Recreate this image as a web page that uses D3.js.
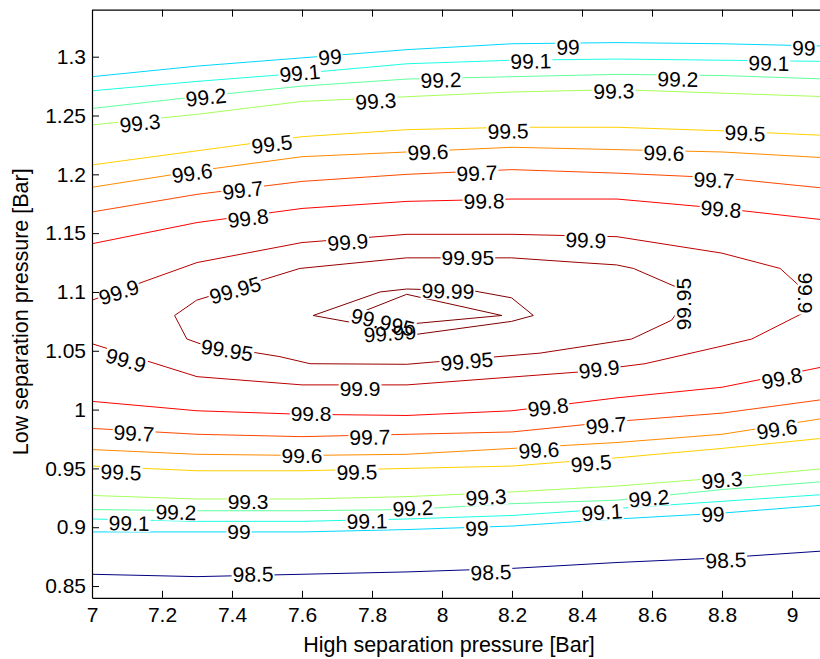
<!DOCTYPE html>
<html>
<head>
<meta charset="utf-8">
<script src="https://cdn.jsdelivr.net/npm/d3@7"></script>
<style>
  body { margin: 0; background: #fff; }
  svg { display: block; font-family: "Liberation Sans", Arial, sans-serif; }
</style>
</head>
<body>
<svg id="chart"></svg>
<script>
// axis ticks
const xTicks = [7, 7.2, 7.4, 7.6, 7.8, 8, 8.2, 8.4, 8.6, 8.8, 9];
const yTicks = [0.85, 0.9, 0.95, 1, 1.05, 1.1, 1.15, 1.2, 1.25, 1.3];

// grid columns the open contour lines pass through
const xGrid = [7, 7.3, 7.6, 7.9, 8.2, 8.5, 8.8, 9.1];

// lower band of contour lines (y at each xGrid)
const lowerLevels = [98.5, 99, 99.1, 99.2, 99.3, 99.5, 99.6, 99.7, 99.8];
const lowerY = [
  [0.860, 0.858, 0.860, 0.862, 0.865, 0.870, 0.874, 0.880],
  [0.896, 0.896, 0.896, 0.898, 0.901, 0.907, 0.912, 0.919],
  [0.907, 0.905, 0.905, 0.907, 0.910, 0.916, 0.922, 0.928],
  [0.915, 0.914, 0.914, 0.915, 0.920, 0.923, 0.932, 0.939],
  [0.927, 0.924, 0.924, 0.926, 0.930, 0.935, 0.942, 0.950],
  [0.952, 0.948, 0.948, 0.950, 0.952, 0.959, 0.967, 0.976],
  [0.966, 0.962, 0.961, 0.962, 0.967, 0.972, 0.979, 0.993],
  [0.984, 0.979, 0.977, 0.979, 0.981, 0.990, 0.997, 1.009],
  [1.007, 0.999, 0.996, 0.995, 0.999, 1.010, 1.019, 1.037]
];

// upper band of contour lines
const upperLevels = [99, 99.1, 99.2, 99.3, 99.5, 99.6, 99.7, 99.8];
const upperY = [
  [1.283, 1.292, 1.299, 1.306, 1.311, 1.312, 1.311, 1.309],
  [1.271, 1.279, 1.286, 1.294, 1.297, 1.298, 1.297, 1.296],
  [1.256, 1.266, 1.275, 1.281, 1.283, 1.285, 1.284, 1.281],
  [1.242, 1.251, 1.262, 1.266, 1.270, 1.272, 1.269, 1.266],
  [1.208, 1.220, 1.232, 1.238, 1.240, 1.240, 1.237, 1.233],
  [1.189, 1.203, 1.215, 1.219, 1.223, 1.221, 1.219, 1.214],
  [1.168, 1.183, 1.194, 1.200, 1.204, 1.201, 1.197, 1.188],
  [1.141, 1.159, 1.171, 1.177, 1.179, 1.179, 1.171, 1.161]
];

// inner contours as [x, y] vertices
const line999 = [[7, 1.093], [7.3, 1.125], [7.6, 1.142], [7.9, 1.149], [8.2, 1.149], [8.5, 1.147],
  [8.8, 1.133], [8.966, 1.120], [9.04, 1.100], [9.031, 1.082], [8.885, 1.060], [8.8, 1.054],
  [8.58, 1.039], [8.394, 1.032], [7.9, 1.021], [7.6, 1.021], [7.3, 1.028], [7, 1.056]];
const ring9995 = [[7.236, 1.080], [7.299, 1.093], [7.594, 1.120], [7.899, 1.129], [8.199, 1.129],
  [8.394, 1.125], [8.499, 1.123], [8.547, 1.120], [8.671, 1.104], [8.691, 1.091], [8.656, 1.076],
  [8.542, 1.060], [8.499, 1.058], [8.28, 1.048], [7.899, 1.0385], [7.623, 1.039], [7.537, 1.045],
  [7.309, 1.056], [7.271, 1.060]];
const ring9999 = [[7.632, 1.080], [7.823, 1.100], [7.899, 1.1025], [8.089, 1.101], [8.199, 1.095],
  [8.261, 1.080], [8.199, 1.075], [7.928, 1.064], [7.78, 1.072]];
const ring99995 = [[7.737, 1.079], [7.899, 1.098], [8.171, 1.080], [7.899, 1.0725]];

// contour labels: [level, x, y, angle]
const labels = [
  [99, 7.680, 1.2997, -5], [99.1, 7.594, 1.2861, -5], [99.2, 7.326, 1.2657, -6],
  [99.3, 7.137, 1.2436, -6], [99.5, 7.514, 1.2258, -7], [99.6, 7.286, 1.2011, -8],
  [99.7, 7.431, 1.1867, -7], [99.8, 7.446, 1.1628, -7], [99.1, 8.254, 1.2963, -1],
  [99.2, 7.997, 1.2802, -1.5], [99.3, 7.811, 1.2623, -3], [99.5, 8.189, 1.2368, -1],
  [99.6, 7.960, 1.2190, -2], [99.7, 8.100, 1.2011, -2], [99.8, 8.120, 1.1773, -1],
  [99, 8.360, 1.3082, -0.5], [99, 9.034, 1.3074, 1], [99.1, 8.934, 1.2946, 1],
  [99.2, 8.674, 1.2810, 1], [99.3, 8.491, 1.2708, -1], [99.5, 8.866, 1.2351, 2.5],
  [99.6, 8.634, 1.2181, 1.5], [99.7, 8.777, 1.1952, 3], [99.8, 8.797, 1.1705, 5],
  [99.9, 7.077, 1.0999, -18], [99.95, 7.409, 1.1016, -16], [99.95, 7.386, 1.0506, 9],
  [99.9, 7.097, 1.0421, 16], [99.9, 7.731, 1.1424, -4], [99.95, 8.074, 1.1297, 0],
  [99.99, 8.017, 1.1008, 1], [99.995, 7.831, 1.0744, 13], [99.99, 7.851, 1.0650, -4],
  [99.95, 8.071, 1.0412, -5], [99.9, 7.766, 1.0183, 0], [99.8, 7.626, 0.9970, 0],
  [99.8, 8.303, 1.0021, -7], [99.9, 8.411, 1.1441, 2], [99.95, 8.689, 1.0897, -90],
  [99.9, 9.040, 1.0991, 90], [99.9, 8.449, 1.0344, -7], [99.8, 8.971, 1.0268, -11],
  [99.7, 7.120, 0.9800, 3], [99.5, 7.083, 0.9469, 2], [99.1, 7.106, 0.9035, 1],
  [99.2, 7.240, 0.9128, 1], [99.3, 7.446, 0.9222, 0], [99, 7.420, 0.8967, 0],
  [98.5, 7.460, 0.8601, -1], [99.6, 7.600, 0.9613, 0], [99.7, 7.794, 0.9766, -1],
  [99.5, 7.757, 0.9469, -1], [99.1, 7.786, 0.9052, -1], [99.2, 7.917, 0.9162, -3],
  [99.3, 8.126, 0.9256, -3], [99, 8.100, 0.8992, -2], [98.5, 8.140, 0.8618, -2],
  [99.6, 8.277, 0.9656, -3], [99.7, 8.469, 0.9868, -5], [99.5, 8.426, 0.9545, -5],
  [99.1, 8.457, 0.9128, -4], [99.2, 8.591, 0.9247, -5], [99.3, 8.800, 0.9401, -5],
  [99, 8.774, 0.9111, -3], [98.5, 8.811, 0.8720, -2.5], [99.6, 8.957, 0.9834, -9]
];

const width = 820, height = 659;
const plotL = 92, plotR = 827, plotT = 9.65, plotB = 597.8;

const svg = d3.select('#chart').attr('width', width).attr('height', height);

const x = d3.scaleLinear().domain([7, 9.1]).range([plotL, plotR]);
const y = d3.scaleLinear().domain([0.84, 1.34]).range([plotB, plotT]);

// jet colormap
const jet = d3.scaleLinear()
  .domain([0, 0.125, 0.375, 0.625, 0.875, 1])
  .range(['#000080', '#0000ff', '#00ffff', '#ffff00', '#ff0000', '#800000'])
  .clamp(true);
const color = v => jet((v - 98.5) / (99.99 - 98.5));

svg.append('defs').append('clipPath').attr('id', 'plot')
  .append('rect').attr('x', plotL).attr('y', plotT)
  .attr('width', plotR - plotL).attr('height', plotB - plotT);

const lines = [];
lowerLevels.forEach((lv, i) => lines.push({ level: lv, pts: xGrid.map((gx, j) => [gx, lowerY[i][j]]), closed: false }));
upperLevels.forEach((lv, i) => lines.push({ level: lv, pts: xGrid.map((gx, j) => [gx, upperY[i][j]]), closed: false }));
lines.push({ level: 99.9, pts: line999, closed: false });
lines.push({ level: 99.95, pts: ring9995, closed: true });
lines.push({ level: 99.99, pts: ring9999, closed: true });
lines.push({ level: 99.995, pts: ring99995, closed: true });

const plot = svg.append('g').attr('clip-path', 'url(#plot)');

plot.selectAll('path.contour')
  .data(lines)
  .join('path')
  .attr('class', 'contour')
  .attr('d', d => (d.closed ? d3.line().curve(d3.curveLinearClosed) : d3.line())
    .x(p => x(p[0])).y(p => y(p[1]))(d.pts))
  .attr('fill', 'none')
  .attr('stroke', d => color(d.level))
  .attr('stroke-width', 1);

// labels: white boxes first so they break the lines, then text
const fs = 21;
const place = d => `translate(${x(d[1])},${y(d[2])}) rotate(${d[3]})`;

const boxes = plot.append('g').selectAll('rect')
  .data(labels)
  .join('rect')
  .attr('transform', place)
  .attr('fill', '#fff');

const texts = plot.append('g').selectAll('text')
  .data(labels)
  .join('text')
  .attr('transform', place)
  .attr('text-anchor', 'middle')
  .attr('y', fs * 0.36)
  .attr('font-size', fs)
  .attr('fill', '#000')
  .text(d => String(d[0]));

texts.each(function (d, i) {
  const w = this.getComputedTextLength();
  d3.select(boxes.nodes()[i])
    .attr('x', -w / 2 - 1).attr('width', w + 2)
    .attr('y', -fs * 0.4).attr('height', fs * 0.8);
});

// axes
const axisStyle = g => {
  g.selectAll('.domain').attr('stroke', '#000');
  g.selectAll('.tick line').attr('stroke', '#000');
  g.selectAll('.tick text').attr('font-size', fs).attr('fill', '#000')
    .attr('font-family', '"Liberation Sans", Arial, sans-serif');
};

svg.append('g').attr('transform', `translate(0,${plotB})`)
  .call(d3.axisBottom(x).tickValues(xTicks).tickFormat(d => String(d))
    .tickSizeInner(-7).tickSizeOuter(0).tickPadding(9))
  .call(axisStyle);

svg.append('g').attr('transform', `translate(0,${plotT})`)
  .call(d3.axisTop(x).tickValues(xTicks).tickFormat('')
    .tickSizeInner(-7).tickSizeOuter(0))
  .call(axisStyle);

svg.append('g').attr('transform', `translate(${plotL},0)`)
  .call(d3.axisLeft(y).tickValues(yTicks).tickFormat(d => String(d))
    .tickSizeInner(-7).tickSizeOuter(0).tickPadding(6))
  .call(axisStyle);

svg.append('g').attr('transform', `translate(${plotR},0)`)
  .call(d3.axisRight(y).tickValues(yTicks).tickFormat('')
    .tickSizeInner(-7).tickSizeOuter(0))
  .call(axisStyle);

svg.selectAll('.domain').attr('stroke-width', 1.2);

svg.append('text')
  .attr('x', (plotL + 792) / 2 + 7)
  .attr('y', 652)
  .attr('text-anchor', 'middle')
  .attr('font-size', 21.5)
  .text('High separation pressure [Bar]');

svg.append('text')
  .attr('transform', `translate(28,${(plotT + plotB) / 2 + 8}) rotate(-90)`)
  .attr('text-anchor', 'middle')
  .attr('font-size', 21.5)
  .text('Low separation pressure [Bar]');
</script>
</body>
</html>
